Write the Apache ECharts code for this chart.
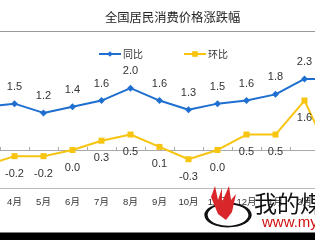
<!DOCTYPE html>
<html>
<head>
<meta charset="utf-8">
<script src="https://cdn.jsdelivr.net/npm/echarts@6/dist/echarts.min.js"></script>
<style>html,body{margin:0;padding:0;background:#fff;overflow:hidden;}#w{width:315px;height:240px;overflow:hidden;position:relative;}#c{position:absolute;left:-29px;top:0;width:377px;height:240px;}</style>
</head>
<body>
<div id="w"><div id="c"></div></div>
<script>
var categories = ['3月','4月','5月','6月','7月','8月','9月','10月','11月','12月','1月','2月','3月'];
var yoy = [1.4, 1.5, 1.2, 1.4, 1.6, 2.0, 1.6, 1.3, 1.5, 1.6, 1.8, 2.3, 2.3];
var mom = [-0.5, -0.2, -0.2, 0.0, 0.3, 0.5, 0.1, -0.3, 0.0, 0.5, 0.5, 1.6, -0.4];
var seriesNames = ['同比', '环比'];

var FONT = '"Liberation Sans", "Noto Sans CJK SC", sans-serif';
var OX = 29; // container offset
var chart = echarts.init(document.getElementById('c'));
chart.setOption({
  backgroundColor: '#fff',
  animation: false,
  title: {
    text: '全国居民消费价格涨跌幅',
    left: 100 + OX, top: 6,
    textStyle: {fontSize: 12.3, fontWeight: 'normal', color: '#222', fontFamily: '"Noto Sans CJK SC", sans-serif'}
  },
  legend: {
    left: 93 + OX, top: 44,
    itemWidth: 22, itemHeight: 7, itemGap: 40,
    textStyle: {fontSize: 10, color: '#333', fontFamily: '"Noto Sans CJK SC", sans-serif', padding: [0,0,0,-3]},
    data: seriesNames
  },
  grid: {left: 0, right: 0, top: 57.3, height: 131.3},
  xAxis: [{
    type: 'category', data: categories, position: 'bottom',
    axisLine: {onZero: false, lineStyle: {color: '#bbb', width: 1}},
    axisTick: {show: false},
    axisLabel: {interval: 0, margin: 9, fontSize: 9.5, color: '#333', fontFamily: FONT}
  }, {
    type: 'category', data: categories, position: 'bottom',
    axisLine: {onZero: true, lineStyle: {color: '#aaa', width: 1}},
    axisTick: {show: true, inside: true, length: 3, interval: 0, lineStyle: {color: '#aaa'}},
    axisLabel: {show: false}
  }],
  yAxis: {
    type: 'value', min: -1.25, max: 3.0, show: false,
    splitLine: {show: false}
  },
  graphic: [
    {type: 'line', shape: {x1: 0, y1: 31.5, x2: 377, y2: 31.5}, style: {stroke: '#999', lineWidth: 1}},
    {type: 'arc', shape: {cx: 228 + OX, cy: 215, r: 1, startAngle: -1.0, endAngle: 5.6}, scaleX: 22, scaleY: 11.5, originX: 228 + OX, originY: 215, style: {fill: 'none', stroke: '#111', lineWidth: 0.15}, z: 10},
    {type: 'polygon', shape: {points: [[218,214],[211,197],[215,186],[218,200],[222,188],[222,202],[229,186],[231,200],[236,194],[232,212],[226,220]].map(function(p){return [p[0]+OX, p[1]];})}, style: {fill: '#d8262b'}, z: 11},
    {type: 'text', left: 254 + OX, top: 192, style: {text: '我的煤', font: '23px "Noto Sans CJK SC"', fill: '#111'}, z: 12},
    {type: 'text', left: 262 + OX, top: 215, style: {text: 'www.my', font: '15px "Liberation Sans"', fill: '#d01010'}, z: 12},
    {type: 'rect', shape: {x: 0, y: 232.5, width: 377, height: 8}, style: {fill: '#000'}, z: 13}
  ],
  series: [{
    name: seriesNames[0], type: 'line', data: yoy, xAxisIndex: 0,
    symbol: 'diamond', symbolSize: 7,
    lineStyle: {color: '#1f6fd0', width: 2},
    itemStyle: {color: '#1f6fd0'},
    label: {show: true, position: 'top', distance: 8, fontSize: 11, color: '#333', fontFamily: FONT, formatter: function(p){return p.value.toFixed(1);}}
  }, {
    name: seriesNames[1], type: 'line', data: mom, xAxisIndex: 0,
    symbol: 'rect', symbolSize: 6,
    lineStyle: {color: '#f7c410', width: 2},
    itemStyle: {color: '#f7c410'},
    label: {show: true, position: 'bottom', distance: 9, fontSize: 11, color: '#333', fontFamily: FONT, formatter: function(p){return p.value.toFixed(1);}}
  }]
});
</script>
</body>
</html>
